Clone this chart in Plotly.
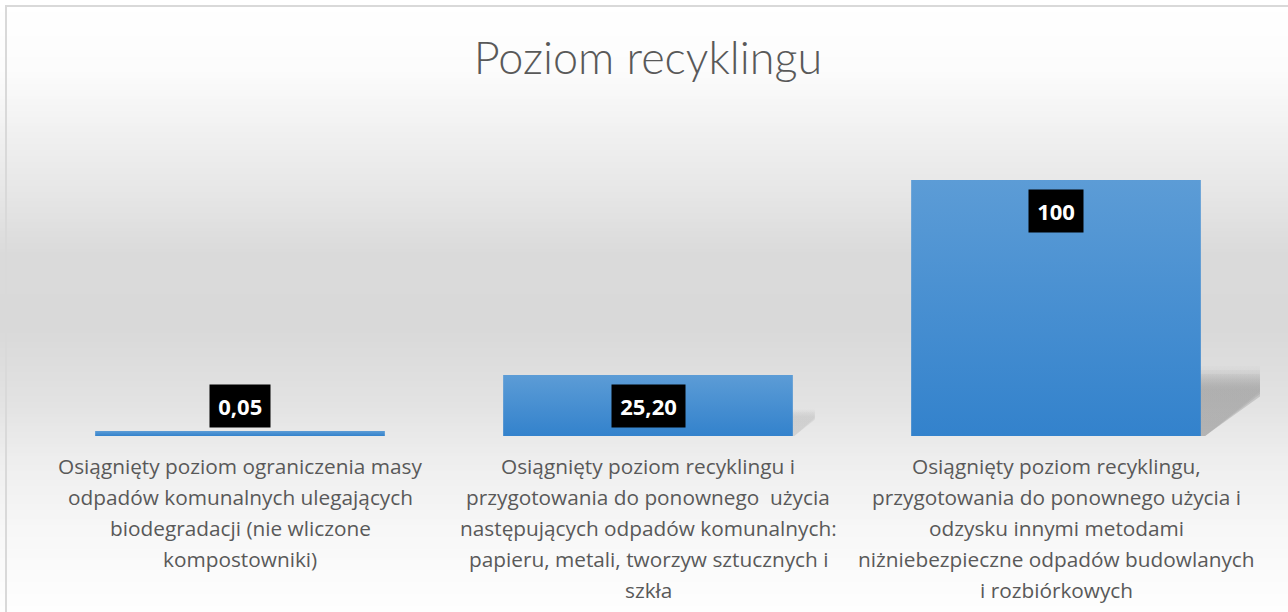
import plotly.graph_objects as go
import numpy as np

# ---- data ----
categories = [
    ["Osiągnięty poziom ograniczenia masy", "odpadów komunalnych ulegających",
     "biodegradacji (nie wliczone", "kompostowniki)"],
    ["Osiągnięty poziom recyklingu i", "przygotowania do ponownego  użycia",
     "następujących odpadów komunalnych:", "papieru, metali, tworzyw sztucznych i", "szkła"],
    ["Osiągnięty poziom recyklingu,", "przygotowania do ponownego użycia i",
     "odzysku innymi metodami", "niżniebezpieczne odpadów budowlanych", "i rozbiórkowych"],
]
value_labels = ["0,05", "25,20", "100"]
bar_heights = [1.95, 23.8, 100]
title_text = "Poziom recyklingu"

# ---- layout constants ----
W, H = 1288, 612
ML, MR, MT, MB = 36, 28, 116, 176
YMAX = 125
BAR_W = 0.71
TEXT_COLOR = "#595959"
pw = W - ML - MR
ph = H - MT - MB
XU = pw / 3.0      # px per category unit
YU = ph / YMAX     # px per value unit
HP_MAX = max(bar_heights) * YU

fig = go.Figure()

# soft perspective shadows behind taller bars
for i, h in enumerate(bar_heights):
    hp = h * YU
    if hp < 20:
        continue
    sh = (0.205 * hp + 13.5) / YU
    sw = (0.205 * hp + 9.5) / XU
    x1 = i + BAR_W / 2
    a = 0.62 * (hp / HP_MAX) ** 0.7
    layers = [(1.06, 0.25), (1.0, 0.45), (0.94, 0.6)]
    for grow, frac in layers:
        w_ = sw * grow
        h_ = sh * grow
        al = a * frac / 0.6 * 0.55
        fig.add_trace(go.Scatter(
            x=[x1 - 0.005, x1 - 0.005, x1 + sw, x1 + sw, x1 + w_ * 0.07, x1 - 0.005],
            y=[0, h_, h_, sh * 0.67 * grow, 0, 0],
            mode="lines", fill="toself",
            fillgradient=dict(type="vertical", colorscale=[
                [0, f"rgba(140,140,140,{al:.3f})"], [0.75, f"rgba(140,140,140,{al:.3f})"],
                [1, f"rgba(140,140,140,{al * 0.25:.3f})"]]),
            line=dict(width=0, color="rgba(0,0,0,0)"),
            hoverinfo="skip", showlegend=False,
        ))

# bars with vertical gradient
for i, h in enumerate(bar_heights):
    x0, x1 = i - BAR_W / 2, i + BAR_W / 2
    fig.add_trace(go.Scatter(
        x=[x0, x0, x1, x1, x0], y=[0, h, h, 0, 0],
        mode="lines", fill="toself", line=dict(width=0, color="rgba(0,0,0,0)"),
        fillgradient=dict(type="vertical", colorscale=[[0, "#3382cc"], [1, "#5c9cd6"]]),
        hoverinfo="skip", showlegend=False,
    ))

# value labels
annotations = []
for i, (h, lab) in enumerate(zip(bar_heights, value_labels)):
    small = h * YU < 30
    annotations.append(dict(
        x=i, y=h, xref="x", yref="y", text="\u200a" + lab + "\u200a", showarrow=False,
        yanchor="bottom" if small else "top", yshift=3 if small else -9,
        bgcolor="#000000", borderpad=6,
        font=dict(family="Open Sans", size=22, color="#ffffff", weight="bold"),
    ))

# category labels, line by line
for i, lines in enumerate(categories):
    for k, line in enumerate(lines):
        annotations.append(dict(
            x=i, y=0, xref="x", yref="y", text=line, showarrow=False,
            yanchor="middle", yshift=-(30 + 31 * k),
            font=dict(family="Open Sans", size=20.8, color=TEXT_COLOR),
        ))

# background gradient (pixel stops -> paper coords)
stops = [(0, 255), (70, 252), (130, 241), (200, 229), (255, 218), (330, 217),
         (400, 226), (460, 238), (530, 247), (612, 254)]
sy = [s[0] for s in stops]
sv = [s[1] for s in stops]
def px2x(px):
    return (px - ML) / pw
def py2y(py):
    return (H - MB - py) / ph

shapes = []
step = 3
for py in range(0, H, step):
    v = int(round(np.interp(py + step / 2, sy, sv)))
    c = f"rgb({v},{v},{v})"
    shapes.append(dict(type="rect", xref="paper", yref="paper", layer="below",
                       x0=px2x(0), x1=px2x(W), y0=py2y(py + step + 0.5), y1=py2y(py),
                       fillcolor=c, line=dict(width=0)))
# chart border
shapes.append(dict(type="rect", xref="paper", yref="paper", layer="above",
                   x0=px2x(6), x1=px2x(W + 10), y0=py2y(H + 10), y1=py2y(6),
                   fillcolor="rgba(0,0,0,0)", line=dict(color="#d9d9d9", width=2)))

fig.update_layout(
    width=W, height=H,
    margin=dict(l=ML, r=MR, t=MT, b=MB, pad=0),
    paper_bgcolor="#ffffff", plot_bgcolor="rgba(0,0,0,0)",
    title=dict(text=title_text, x=0.5, xref="paper", xanchor="center",
               y=1 - 58 / H, yref="container", yanchor="middle",
               font=dict(family="Lato", size=45, color=TEXT_COLOR, weight=300)),
    xaxis=dict(range=[-0.5, 2.5], showgrid=False, zeroline=False, showticklabels=False,
               showline=False, fixedrange=True),
    yaxis=dict(range=[0, YMAX], showgrid=False, zeroline=False, showticklabels=False,
               showline=False, fixedrange=True),
    annotations=annotations, shapes=shapes, showlegend=False,
)

fig.write_html("out.html", config={"displayModeBar": False},
               post_script="document.body.style.margin='0';document.body.style.overflow='hidden';")
